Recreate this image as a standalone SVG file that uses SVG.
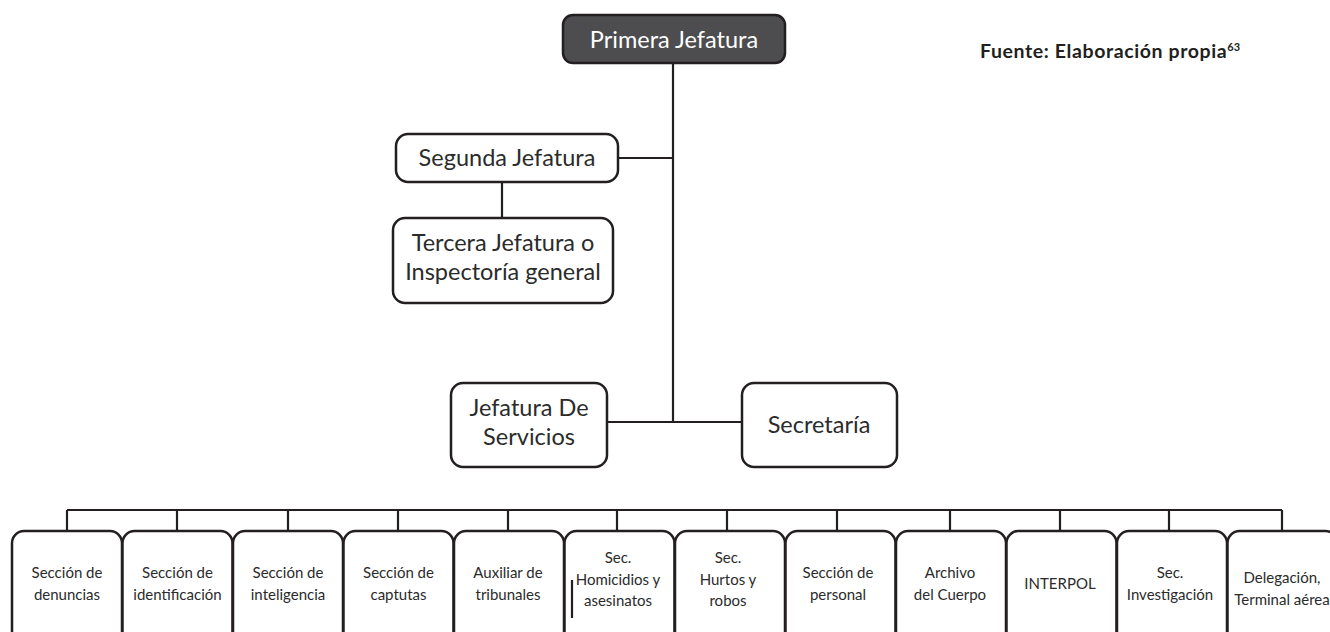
<svg xmlns="http://www.w3.org/2000/svg" width="1330" height="632" viewBox="0 0 1330 632">
<style>
.box{fill:#fff;stroke:#231f20;stroke-width:2.5}
.dark{fill:#4d4d4f;stroke:#231f20;stroke-width:2.5}
.ln{fill:none;stroke:#231f20;stroke-width:2.2}
.t{font-family:Lato,"Open Sans","Liberation Sans",sans-serif;font-weight:400;fill:#2b2b2b;text-anchor:middle}
.big{font-size:23.5px}
.sm{font-size:15px}
</style>
<rect width="1330" height="632" fill="#fff"/>
<g id="connectors">
<path class="ln" d="M673 63V422M618 158H673M502 182V218M607 422H742"/>
<path class="ln" d="M67 510H1282M67 510V531M177 510V531M288 510V531M398 510V531M508 510V531M617 510V531M727 510V531M837 510V531M950 510V531M1060 510V531M1169 510V531M1282 510V531"/>
</g>
<g id="primera"><rect class="dark" x="563" y="15" width="222" height="48" rx="10"/><text class="t big" x="674" y="48" style="fill:#fff">Primera Jefatura</text></g>
<g id="segunda"><rect class="box" x="396" y="134" width="222" height="48" rx="12"/><text class="t big" x="507" y="166">Segunda Jefatura</text></g>
<g id="tercera"><rect class="box" x="393" y="218" width="220" height="85" rx="12"/><text class="t big" x="503" y="251">Tercera Jefatura o</text><text class="t big" x="503" y="280">Inspectoría general</text></g>
<g id="servicios"><rect class="box" x="451" y="383" width="156" height="84" rx="12"/><text class="t big" x="529" y="416">Jefatura De</text><text class="t big" x="529" y="445">Servicios</text></g>
<g id="secretaria"><rect class="box" x="742" y="383" width="155" height="84" rx="12"/><text class="t big" x="819" y="433">Secretaría</text></g>
<g id="fuente"><text x="980" y="58" style="font-family:Lato,'Open Sans','Liberation Sans',sans-serif;font-size:19.5px;font-weight:bold;fill:#231f20;letter-spacing:0.6px">Fuente: Elaboración propia<tspan font-size="11" dy="-7" style="letter-spacing:0">63</tspan></text></g>
<g id="s1"><rect class="box" x="12" y="531" width="110" height="118" rx="12"/><text class="t sm" x="67" y="578">Sección de</text><text class="t sm" x="67" y="600">denuncias</text></g>
<g id="s2"><rect class="box" x="122.5" y="531" width="110" height="118" rx="12"/><text class="t sm" x="177.5" y="578">Sección de</text><text class="t sm" x="177.5" y="600">identificación</text></g>
<g id="s3"><rect class="box" x="233" y="531" width="110" height="118" rx="12"/><text class="t sm" x="288" y="578">Sección de</text><text class="t sm" x="288" y="600">inteligencia</text></g>
<g id="s4"><rect class="box" x="343.5" y="531" width="110" height="118" rx="12"/><text class="t sm" x="398.5" y="578">Sección de</text><text class="t sm" x="398.5" y="600">captutas</text></g>
<g id="s5"><rect class="box" x="454" y="531" width="110" height="118" rx="12"/><text class="t sm" x="508" y="578">Auxiliar de</text><text class="t sm" x="508" y="600">tribunales</text></g>
<g id="s6"><rect class="box" x="564.5" y="531" width="110" height="118" rx="12"/><text class="t sm" x="618" y="563">Sec.</text><text class="t sm" x="618" y="585">Homicidios y</text><text class="t sm" x="618" y="606">asesinatos</text></g>
<g id="s7"><rect class="box" x="675" y="531" width="110" height="118" rx="12"/><text class="t sm" x="728" y="563">Sec.</text><text class="t sm" x="728" y="585">Hurtos y</text><text class="t sm" x="728" y="606">robos</text></g>
<g id="s8"><rect class="box" x="785.5" y="531" width="110" height="118" rx="12"/><text class="t sm" x="838" y="578">Sección de</text><text class="t sm" x="838" y="600">personal</text></g>
<g id="s9"><rect class="box" x="896" y="531" width="110" height="118" rx="12"/><text class="t sm" x="950" y="578">Archivo</text><text class="t sm" x="950" y="600">del Cuerpo</text></g>
<g id="s10"><rect class="box" x="1006.5" y="531" width="110" height="118" rx="12"/><text class="t sm" x="1060" y="589">INTERPOL</text></g>
<g id="s11"><rect class="box" x="1117" y="531" width="110" height="118" rx="12"/><text class="t sm" x="1170" y="578">Sec.</text><text class="t sm" x="1170" y="600">Investigación</text></g>
<g id="s12"><rect class="box" x="1227.5" y="531" width="110" height="118" rx="12"/><text class="t sm" x="1282" y="583">Delegación,</text><text class="t sm" x="1282" y="605">Terminal aérea</text></g>
<path class="ln" d="M572 580V618"/>
</svg>
